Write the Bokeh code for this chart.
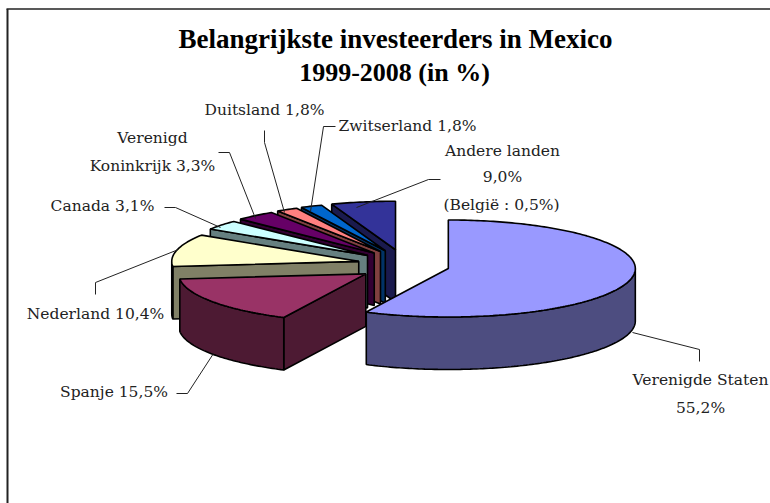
import numpy as np
from bokeh.plotting import figure
from bokeh.models import Range1d, Label
from bokeh.embed import file_html
from bokeh.resources import INLINE

countries = ["Verenigde Staten", "Spanje", "Nederland", "Canada", "Verenigd Koninkrijk", "Duitsland", "Zwitserland", "Andere landen"]
shares = [55.2, 15.5, 10.4, 3.1, 3.3, 1.8, 1.8, 9.0]
top_colors = ["#9999FF", "#993366", "#FFFFCC", "#CCFFFF", "#660066", "#FF8080", "#0066CC", "#333399"]
side_colors = ["#4D4D80", "#4D1A33", "#808066", "#668080", "#330033", "#804040", "#003366", "#1A1A4D"]

W, H = 770, 503
CX, CY, RX, RY, DEPTH, EX, EY = 403, 264.5, 187, 48.5, 52.5, 46, 15.5
FONT = "DejaVu Serif"
TITLE_FONT = "Liberation Serif"

p = figure(width=W, height=H, output_backend="svg", toolbar_location=None, min_border=0,
           x_range=Range1d(0, W), y_range=Range1d(H, 0), outline_line_color=None)
p.axis.visible = False
p.grid.visible = False


def warp(a):
    # apparent angle on the tilted ellipse for a true pie angle
    return np.interp(a, [0, 198.7, 254.5, 327.9, 360], [0, 206, 264, 340, 360])


def arc_pts(ax, ay, t0, t1, dy=0.0):
    t = np.radians(np.linspace(t0, t1, max(2, int(abs(t1 - t0)) + 2)))
    return ax + RX * np.sin(t), ay - RY * np.cos(t) + dy


edges = np.concatenate([[0], np.cumsum(shares)]) * 360.0 / 100.0
for i in range(len(shares) - 1, -1, -1):
    t0, t1 = warp(edges[i]), warp(edges[i + 1])
    mid = np.radians((t0 + t1) / 2)
    ax, ay = CX + EX * np.sin(mid), CY - EY * np.cos(mid)
    # radial face at the start of the slice, seen when it faces the viewer
    if 180 <= t0 < 360:
        ox, oy = arc_pts(ax, ay, t0, t0)
        p.patch([ax, ox[0], ox[0], ax], [ay, oy[0], oy[0] + DEPTH, ay + DEPTH],
                fill_color=side_colors[i], line_color="black", line_width=1.6)
    # outer wall, front half only
    w0, w1 = max(t0, 90), min(t1, 270)
    if w1 > w0:
        xa, ya = arc_pts(ax, ay, w0, w1)
        p.patch(np.concatenate([xa, xa[::-1]]), np.concatenate([ya, ya[::-1] + DEPTH]),
                fill_color=side_colors[i], line_color="black", line_width=1.6)
    xa, ya = arc_pts(ax, ay, t0, t1)
    p.patch(np.concatenate([[ax], xa]), np.concatenate([[ay], ya]),
            fill_color=top_colors[i], line_color="black", line_width=1.6)

# chart frame
p.line([7, 7], [H, 8.5], line_color="#222222", line_width=2)
p.line([6, W], [8.5, 8.5], line_color="#222222", line_width=1.5)

# leader lines
leaders = [
    ([632, 699, 699], [332, 349, 361]),
    ([176, 187, 213], [393, 393, 353]),
    ([95, 95, 178], [294, 282, 249]),
    ([164, 175, 220], [207, 207, 227]),
    ([218, 229, 255], [152, 152, 218]),
    ([264, 264, 284], [130, 142, 212]),
    ([335, 323, 310], [126, 126, 211]),
    ([440, 428, 356], [179, 179, 207]),
]
for xs, ys in leaders:
    p.line(xs, ys, line_color="#222222", line_width=1)


def text(x, y, s, size=15.5, bold=False, font=FONT):
    p.add_layout(Label(x=x, y=y, text=s, text_font=font, text_font_size=f"{size}px",
                       text_font_style="bold" if bold else "normal", text_align="center",
                       text_baseline="middle", text_color="#222222" if not bold else "#000000"))


text(395, 38, "Belangrijkste investeerders in Mexico", 27, True, TITLE_FONT)
text(394, 72, "1999-2008 (in %)", 26, True, TITLE_FONT)
text(264, 109, "Duitsland 1,8%")
text(407, 125, "Zwitserland 1,8%")
text(502, 150, "Andere landen")
text(502, 176, "9,0%")
text(501, 204, "(België : 0,5%)")
text(152, 137, "Verenigd")
text(152, 165, "Koninkrijk 3,3%")
text(102, 205, "Canada 3,1%")
text(95, 313, "Nederland 10,4%")
text(116, 391, "Spanje  15,5%")
text(700, 379, "Verenigde Staten")
text(700, 407, "55,2%")

open("out.html", "w").write(file_html(p, INLINE))
